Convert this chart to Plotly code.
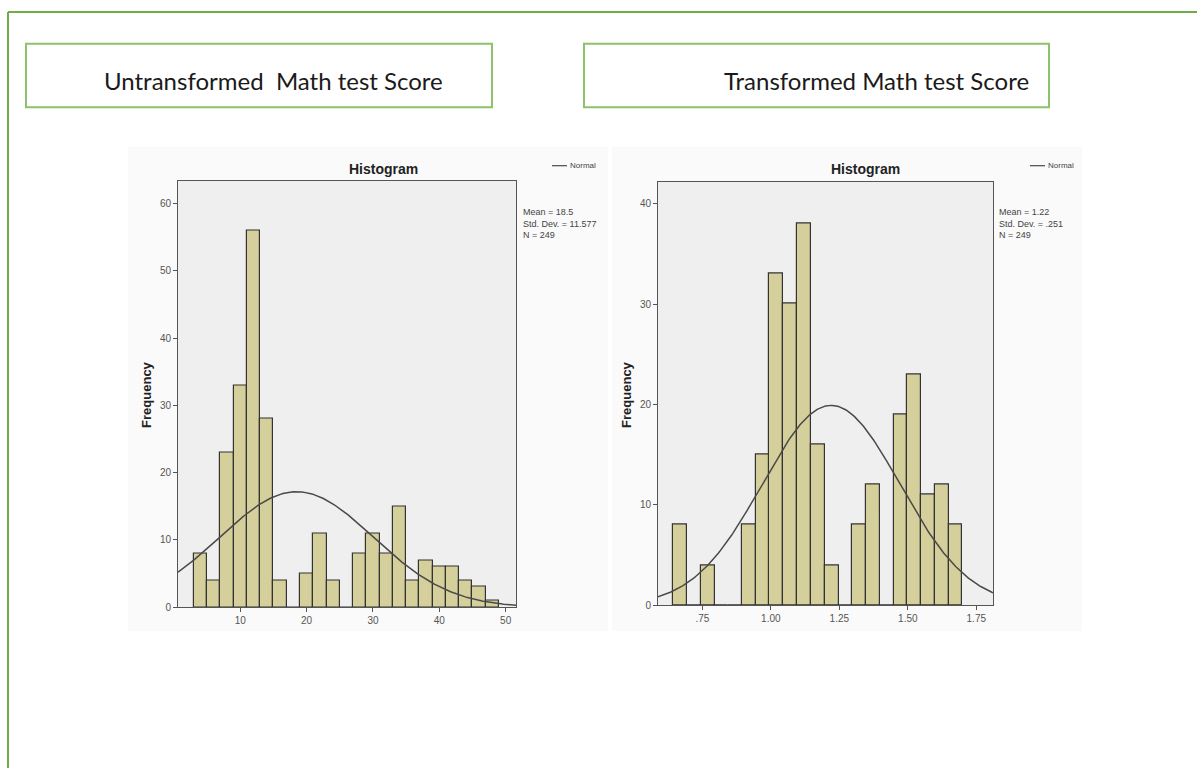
import math
import plotly.graph_objects as go

W, H = 1197, 768

# ---------------- data ----------------
# Untransformed math test score: histogram bins (lower edge, width 2)
left_bin_lower = [3, 5, 7, 9, 11, 13, 15, 17, 19, 21, 23, 25, 27, 29, 31, 33, 35, 37, 39, 41, 43, 45, 47]
left_counts = [8, 4, 23, 33, 56, 28, 4, 0, 5, 11, 4, 0, 8, 11, 8, 15, 4, 7, 6, 6, 4, 3, 1]
left_bin_width = 2.0
left_mean, left_sd, left_n = 18.5, 11.577, 249
left_xticks = [10, 20, 30, 40, 50]
left_xticklabels = ["10", "20", "30", "40", "50"]
left_yticks = [0, 10, 20, 30, 40, 50, 60]

# Transformed math test score
right_bin_lower = [0.643, 0.693, 0.744, 0.794, 0.844, 0.895, 0.945, 0.995, 1.046, 1.096, 1.146,
                   1.197, 1.247, 1.297, 1.347, 1.398, 1.448, 1.498, 1.549, 1.599, 1.649]
right_counts = [8, 0, 4, 0, 0, 8, 15, 33, 30, 38, 16, 4, 0, 8, 12, 0, 19, 23, 11, 12, 8]
right_bin_width = 0.0503
right_mean, right_sd, right_n = 1.22, 0.251, 249
right_xticks = [0.75, 1.00, 1.25, 1.50, 1.75]
right_xticklabels = [".75", "1.00", "1.25", "1.50", "1.75"]
right_yticks = [0, 10, 20, 30, 40]

left_stats = "Mean = 18.5<br>Std. Dev. = 11.577<br>N = 249"
right_stats = "Mean = 1.22<br>Std. Dev. = .251<br>N = 249"
left_title = "Untransformed  Math test Score"
right_title = "Transformed Math test Score"

# ---------------- layout helpers ----------------
def px(x):
    return x / W

def py(y):
    return 1 - y / H

# plot areas in pixels (x0, x1, y_top, y_bottom)
L = (178, 516, 182, 612)
R = (658, 993, 183, 610)
left_xrange = [0.62, 51.56]
left_yrange = [0, 63.4]
right_xrange = [0.588, 1.811]
right_yrange = [0, 42.2]

BAR_FILL = "#D4CF9B"
BAR_LINE = "#333333"
CURVE = "#4a4a4a"
GREEN = "#70AD47"
GREEN_BOX = "#8CC26A"
PLOT_BG = "#EFEFEF"
SPSS_FONT = "Liberation Sans Narrow, Arial Narrow, Liberation Sans, Arial"


def normal_curve(mean, sd, n, bw, xr, steps=300):
    xs, ys = [], []
    for i in range(steps + 1):
        x = xr[0] + (xr[1] - xr[0]) * i / steps
        y = n * bw / (sd * math.sqrt(2 * math.pi)) * math.exp(-0.5 * ((x - mean) / sd) ** 2)
        xs.append(x)
        ys.append(y)
    return xs, ys


fig = go.Figure()

# left histogram
fig.add_trace(go.Bar(
    x=[b + left_bin_width / 2 for b in left_bin_lower], y=left_counts, width=left_bin_width,
    marker=dict(color=BAR_FILL, line=dict(color=BAR_LINE, width=1.2)),
    xaxis="x", yaxis="y", showlegend=False, hoverinfo="x+y"))
cx, cy = normal_curve(left_mean, left_sd, left_n, left_bin_width, left_xrange)
fig.add_trace(go.Scatter(x=cx, y=cy, mode="lines", line=dict(color=CURVE, width=1.5),
                         xaxis="x", yaxis="y", showlegend=False, name="Normal"))

# right histogram
fig.add_trace(go.Bar(
    x=[b + right_bin_width / 2 for b in right_bin_lower], y=right_counts, width=right_bin_width,
    marker=dict(color=BAR_FILL, line=dict(color=BAR_LINE, width=1.2)),
    xaxis="x2", yaxis="y2", showlegend=False, hoverinfo="x+y"))
cx2, cy2 = normal_curve(right_mean, right_sd, right_n, right_bin_width, right_xrange)
fig.add_trace(go.Scatter(x=cx2, y=cy2, mode="lines", line=dict(color=CURVE, width=1.5),
                         xaxis="x2", yaxis="y2", showlegend=False, name="Normal"))

axis_common = dict(showgrid=False, zeroline=False, showline=True, mirror=True,
                   linecolor="#555555", linewidth=1, ticks="outside", ticklen=4,
                   tickcolor="#555555", tickfont=dict(family=SPSS_FONT, size=10, color="#555555"))

fig.update_layout(
    width=W, height=H, autosize=False,
    margin=dict(l=0, r=0, t=0, b=0),
    paper_bgcolor="white",
    plot_bgcolor=PLOT_BG,
    bargap=0,
    xaxis=dict(domain=[px(L[0]), px(L[1])], range=left_xrange, tickvals=left_xticks,
               ticktext=left_xticklabels, anchor="y", **axis_common),
    yaxis=dict(domain=[py(L[3]), py(L[2])], range=left_yrange, tickvals=left_yticks,
               anchor="x", **axis_common),
    xaxis2=dict(domain=[px(R[0]), px(R[1])], range=right_xrange, tickvals=right_xticks,
                ticktext=right_xticklabels, anchor="y2", **axis_common),
    yaxis2=dict(domain=[py(R[3]), py(R[2])], range=right_yrange, tickvals=right_yticks,
                anchor="x2", **axis_common),
)

shapes = []
# faint screenshot backgrounds behind the SPSS charts
shapes.append(dict(type="rect", xref="paper", yref="paper", layer="below",
                   x0=px(128), x1=px(608), y0=py(636), y1=py(148),
                   fillcolor="#FAFAFA", line=dict(width=0)))
shapes.append(dict(type="rect", xref="paper", yref="paper", layer="below",
                   x0=px(612), x1=px(1082), y0=py(636), y1=py(148),
                   fillcolor="#FAFAFA", line=dict(width=0)))
# plot-area backgrounds (on top of the faint screenshot backgrounds)
for xr_, yr_ in (("x domain", "y domain"), ("x2 domain", "y2 domain")):
    shapes.append(dict(type="rect", xref=xr_, yref=yr_, layer="below",
                       x0=0, x1=1, y0=0, y1=1, fillcolor=PLOT_BG, line=dict(width=0)))
# outer green frame (top and left edges)
shapes.append(dict(type="line", xref="paper", yref="paper", x0=px(8), x1=1.01, y0=py(12), y1=py(12),
                   line=dict(color=GREEN, width=2)))
shapes.append(dict(type="line", xref="paper", yref="paper", x0=px(8), x1=px(8), y0=py(12), y1=-0.01,
                   line=dict(color=GREEN, width=2)))
# title boxes
shapes.append(dict(type="rect", xref="paper", yref="paper", x0=px(26), x1=px(492), y0=py(108), y1=py(44),
                   line=dict(color=GREEN_BOX, width=2), fillcolor="rgba(0,0,0,0)"))
shapes.append(dict(type="rect", xref="paper", yref="paper", x0=px(584), x1=px(1049), y0=py(108), y1=py(44),
                   line=dict(color=GREEN_BOX, width=2), fillcolor="rgba(0,0,0,0)"))
# legend line samples
shapes.append(dict(type="line", xref="paper", yref="paper", x0=px(552), x1=px(567), y0=py(167), y1=py(167),
                   line=dict(color=CURVE, width=1.2)))
shapes.append(dict(type="line", xref="paper", yref="paper", x0=px(1030), x1=px(1045), y0=py(167), y1=py(167),
                   line=dict(color=CURVE, width=1.2)))

annotations = []
TITLE_FONT = dict(family="Lato, Open Sans, sans-serif", size=24, color="#1a1a1a")
annotations.append(dict(text=left_title, x=px(273), y=py(81), xref="paper", yref="paper",
                        xanchor="center", yanchor="middle", showarrow=False, font=TITLE_FONT))
annotations.append(dict(text=right_title, x=px(876), y=py(81), xref="paper", yref="paper",
                        xanchor="center", yanchor="middle", showarrow=False, font=TITLE_FONT))
for cxp in (px(383), px(865)):
    annotations.append(dict(text="<b>Histogram</b>", x=cxp, y=py(170), xref="paper", yref="paper",
                            xanchor="center", yanchor="middle", showarrow=False,
                            font=dict(family="Liberation Sans, Arial", size=14, color="#222222")))
for fx in (px(147), px(627)):
    annotations.append(dict(text="<b>Frequency</b>", x=fx, y=py(398), xref="paper", yref="paper",
                            xanchor="center", yanchor="middle", textangle=-90, showarrow=False,
                            font=dict(family="Liberation Sans, Arial", size=13, color="#222222")))
for lx in (px(568), px(1046)):
    annotations.append(dict(text="Normal", x=lx, y=py(167), xref="paper", yref="paper",
                            xanchor="left", yanchor="middle", showarrow=False,
                            font=dict(family=SPSS_FONT, size=8, color="#444444")))
annotations.append(dict(text=left_stats, x=px(521), y=py(207), xref="paper", yref="paper",
                        xanchor="left", yanchor="top", align="left", showarrow=False,
                        font=dict(family=SPSS_FONT, size=9, color="#444444")))
annotations.append(dict(text=right_stats, x=px(997), y=py(207), xref="paper", yref="paper",
                        xanchor="left", yanchor="top", align="left", showarrow=False,
                        font=dict(family=SPSS_FONT, size=9, color="#444444")))

fig.update_layout(shapes=shapes, annotations=annotations)

fig.write_html("out.html", config={"displayModeBar": False},
               post_script="document.body.style.margin='0';document.body.style.overflow='hidden';")
